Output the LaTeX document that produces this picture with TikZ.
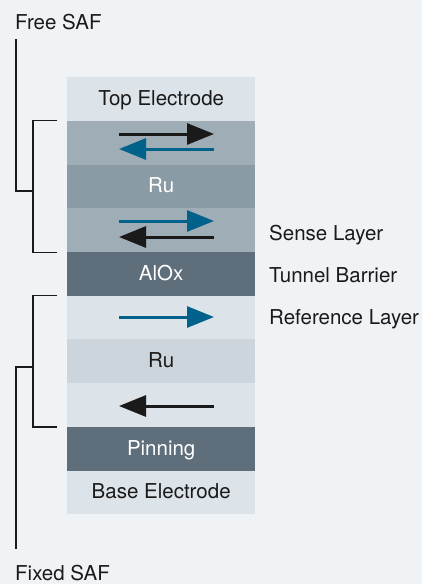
\documentclass[tikz,border=0pt]{standalone}
\usepackage{fontspec}
\setmainfont{TeX Gyre Heros}
\usetikzlibrary{arrows.meta}
\definecolor{bg}{HTML}{EFF3F6}
\definecolor{pale}{HTML}{DCE3E9}
\definecolor{grey}{HTML}{9FADB6}
\definecolor{rudark}{HTML}{8B9BA5}
\definecolor{rupale}{HTML}{CDD5DC}
\definecolor{slate}{HTML}{5E6E7A}
\definecolor{spin}{HTML}{00628B}
\definecolor{ink}{HTML}{1A1A1A}
\begin{document}
\begin{tikzpicture}[x=1pt,y=-1pt]
	\tikzset{layer/.style={rectangle,minimum width=188pt,minimum height=43.7pt,inner sep=0pt,anchor=north west,text=ink,text height=13pt,text depth=0pt,font=\fontsize{20.5}{22}\selectfont},
		mag/.style={line width=3pt,-{Triangle[length=27pt,width=21pt]}},
		brace/.style={line width=1.4pt,draw=ink},
		lbl/.style={anchor=base west,inner sep=0pt,text=ink,font=\fontsize{20.5}{22}\selectfont}}
	\useasboundingbox[fill=bg] (0,0) rectangle (422,584);
	% layer stack
	\node[layer,fill=pale] (top) at (67,77) {Top Electrode};
	\node[layer,fill=grey] (fa) at (67,120.7) {};
	\node[layer,fill=rudark,text=white] (rua) at (67,164.4) {Ru};
	\node[layer,fill=grey] (fb) at (67,208.1) {};
	\node[layer,fill=slate,text=white] (alox) at (67,251.8) {AlOx};
	\node[layer,fill=pale] (pa) at (67,295.5) {};
	\node[layer,fill=rupale] (rub) at (67,339.2) {Ru};
	\node[layer,fill=pale] (pb) at (67,382.9) {};
	\node[layer,fill=slate,text=white] (pin) at (67,426.6) {Pinning};
	\node[layer,fill=pale] (base) at (67,470.3) {Base Electrode};
	% magnetisation
	\draw[mag,ink] (119,134)--(214,134);
	\draw[mag,spin] (214,149)--(119,149);
	\draw[mag,spin] (119,221)--(214,221);
	\draw[mag,ink] (214,237)--(119,237);
	\draw[mag,spin] (119,317)--(214,317);
	\draw[mag,ink] (214,406)--(119,406);
	% labels
	\node[lbl] (free) at (15,29) {Free SAF};
	\node[lbl] (fixed) at (15,580) {Fixed SAF};
	\node[lbl] (sense) at (269,240.5) {Sense Layer};
	\node[lbl] (tunnel) at (269,282.5) {Tunnel Barrier};
	\node[lbl] (ref) at (269,324) {Reference Layer};
	% brackets
	\draw[brace] ([xshift=-10pt]fa.north west) -- ++(-24,0) |- ([xshift=-10pt]fb.south west);
	\draw[brace] ([xshift=-10pt]pa.north west) -- ++(-24,0) |- ([xshift=-10pt]pb.south west);
	\draw[brace] (33,191) -| ([xshift=1pt,yshift=-9pt]free.south west);
	\draw[brace] (33,367) -| ([xshift=1pt,yshift=15pt]fixed.north west);
\end{tikzpicture}
\end{document}
